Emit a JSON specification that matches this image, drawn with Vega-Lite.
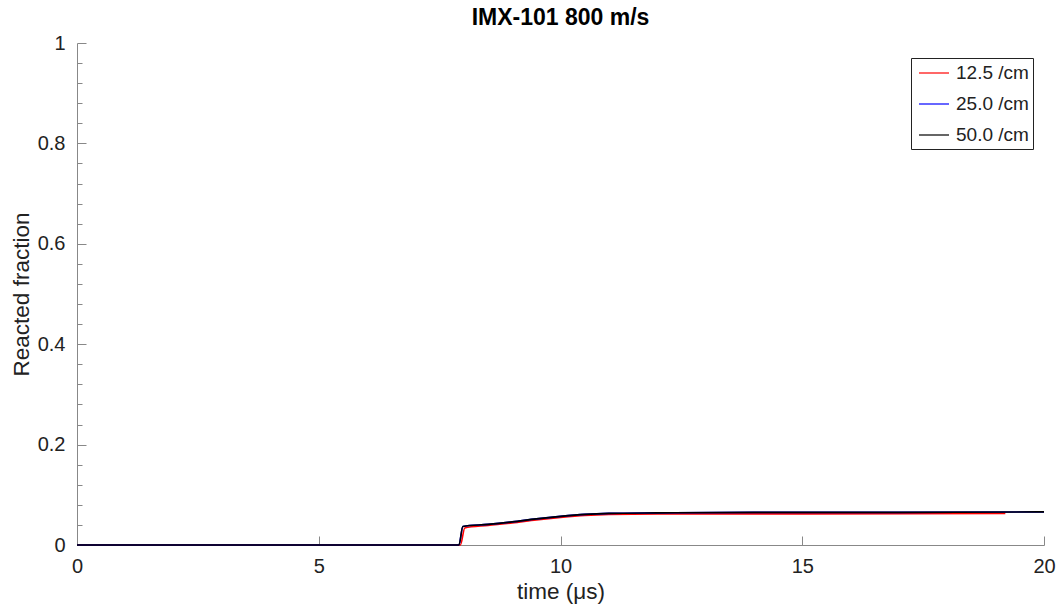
{
  "$schema": "https://vega.github.io/schema/vega-lite/v6.json",
  "width": 967,
  "height": 502,
  "autosize": {"type": "none"},
  "padding": {"left": 77, "top": 43, "right": 14, "bottom": 59},
  "background": "white",
  "title": {"text": "IMX-101 800 m/s", "font": "Liberation Sans", "fontSize": 23, "fontWeight": "bold", "color": "#000", "offset": 3, "anchor": "middle"},
  "config": {
    "view": {"stroke": null},
    "font": "Liberation Sans"
  },
  "data": {"values": [
    {"series": "12.5 /cm", "t": 0, "f": 0},
    {"series": "12.5 /cm", "t": 7.93, "f": 0},
    {"series": "12.5 /cm", "t": 8.02, "f": 0.034},
    {"series": "12.5 /cm", "t": 8.5, "f": 0.039},
    {"series": "12.5 /cm", "t": 9.0, "f": 0.044},
    {"series": "12.5 /cm", "t": 9.5, "f": 0.05},
    {"series": "12.5 /cm", "t": 10.0, "f": 0.055},
    {"series": "12.5 /cm", "t": 10.5, "f": 0.059},
    {"series": "12.5 /cm", "t": 11.0, "f": 0.061},
    {"series": "12.5 /cm", "t": 12.0, "f": 0.062},
    {"series": "12.5 /cm", "t": 15.0, "f": 0.062},
    {"series": "12.5 /cm", "t": 19.2, "f": 0.063},
    {"series": "25.0 /cm", "t": 0, "f": 0},
    {"series": "25.0 /cm", "t": 7.9, "f": 0},
    {"series": "25.0 /cm", "t": 7.98, "f": 0.037},
    {"series": "25.0 /cm", "t": 8.5, "f": 0.041},
    {"series": "25.0 /cm", "t": 9.0, "f": 0.046},
    {"series": "25.0 /cm", "t": 9.5, "f": 0.052},
    {"series": "25.0 /cm", "t": 10.0, "f": 0.057},
    {"series": "25.0 /cm", "t": 10.5, "f": 0.061},
    {"series": "25.0 /cm", "t": 11.0, "f": 0.063},
    {"series": "25.0 /cm", "t": 12.0, "f": 0.064},
    {"series": "25.0 /cm", "t": 14.0, "f": 0.065},
    {"series": "25.0 /cm", "t": 17.0, "f": 0.065},
    {"series": "25.0 /cm", "t": 20.0, "f": 0.066},
    {"series": "50.0 /cm", "t": 0, "f": 0},
    {"series": "50.0 /cm", "t": 7.9, "f": 0},
    {"series": "50.0 /cm", "t": 7.98, "f": 0.037},
    {"series": "50.0 /cm", "t": 8.5, "f": 0.041},
    {"series": "50.0 /cm", "t": 9.0, "f": 0.046},
    {"series": "50.0 /cm", "t": 9.5, "f": 0.052},
    {"series": "50.0 /cm", "t": 10.0, "f": 0.057},
    {"series": "50.0 /cm", "t": 10.5, "f": 0.061},
    {"series": "50.0 /cm", "t": 11.0, "f": 0.063},
    {"series": "50.0 /cm", "t": 12.0, "f": 0.064},
    {"series": "50.0 /cm", "t": 14.0, "f": 0.065},
    {"series": "50.0 /cm", "t": 17.0, "f": 0.065},
    {"series": "50.0 /cm", "t": 20.0, "f": 0.066}
  ]},
  "layer": [
    {
      "mark": {"type": "line", "strokeWidth": 0, "opacity": 0},
      "encoding": {
        "x": {"field": "t", "type": "quantitative", "scale": {"domain": [0, 20], "nice": false},
          "axis": {"values": [0, 5, 10, 15, 20], "title": "time (μs)", "titleFont": "Liberation Sans", "titleFontSize": 22.5, "titleFontWeight": "normal", "titleColor": "#222", "titlePadding": 4,
            "labelFont": "Liberation Sans", "labelFontSize": 20, "labelColor": "#222", "labelPadding": 20,
            "domainColor": "#888", "tickColor": "#888", "tickSize": -9, "grid": false, "labelFlush": false}},
        "y": {"field": "f", "type": "quantitative", "scale": {"domain": [0, 1], "nice": false},
          "axis": {"orient": "left", "values": [0.04, 0.08, 0.12, 0.16, 0.24, 0.28, 0.32, 0.36, 0.44, 0.48, 0.52, 0.56, 0.64, 0.68, 0.72, 0.76, 0.84, 0.88, 0.92, 0.96],
            "labels": false, "domain": false, "grid": false, "title": null, "tickSize": -5, "tickColor": "#888", "tickWidth": 1}},
        "detail": {"field": "series"}
      }
    },
    {
      "mark": {"type": "line", "strokeWidth": 1.6, "interpolate": "monotone"},
      "encoding": {
        "x": {"field": "t", "type": "quantitative", "scale": {"domain": [0, 20], "nice": false},
          "axis": {"values": [0, 5, 10, 15, 20], "title": "time (μs)", "titleFont": "Liberation Sans", "titleFontSize": 22.5, "titleFontWeight": "normal", "titleColor": "#222", "titlePadding": 4,
            "labelFont": "Liberation Sans", "labelFontSize": 20, "labelColor": "#222", "labelPadding": 20,
            "domainColor": "#888", "tickColor": "#888", "tickSize": -9, "grid": false, "labelFlush": false}},
        "y": {"field": "f", "type": "quantitative", "scale": {"domain": [0, 1], "nice": false},
          "axis": {"orient": "left", "values": [0, 0.2, 0.4, 0.6, 0.8, 1], "format": "~g", "title": "Reacted fraction", "titleFont": "Liberation Sans", "titleFontSize": 22.5, "titleFontWeight": "normal", "titleColor": "#222", "titlePadding": 4,
            "labelFont": "Liberation Sans", "labelFontSize": 20, "labelColor": "#222", "labelPadding": 21,
            "domainColor": "#888", "tickColor": "#888", "tickSize": -9, "grid": false, "labelFlush": false}},
        "color": {"field": "series", "type": "nominal",
          "scale": {"domain": ["12.5 /cm", "25.0 /cm", "50.0 /cm"], "range": ["#ff0000", "#0000ff", "#000000"]},
          "legend": {"title": null, "orient": "none", "legendX": 834, "legendY": 15, "strokeColor": "#222", "fillColor": "white", "padding": 4,
            "symbolType": "M-1.5,0L1.5,0", "symbolSize": 400, "symbolStrokeWidth": 1.2, "symbolOffset": 8,
            "labelFont": "Liberation Sans", "labelFontSize": 19, "labelColor": "#222", "rowPadding": 10, "labelOffset": 11}}
      }
    }
  ],
  "resolve": {"axis": {"y": "independent"}}
}
